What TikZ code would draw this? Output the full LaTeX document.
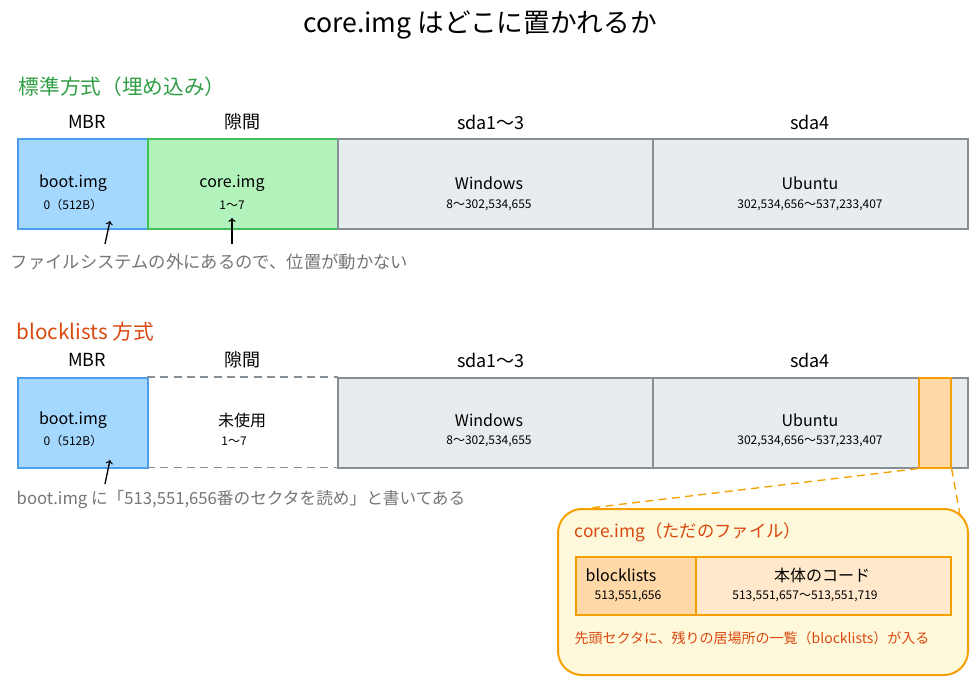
\documentclass[tikz,border=0pt]{standalone}
\usepackage{fontspec}
\setmainfont{Noto Sans CJK JP}
\definecolor{mbrfill}{HTML}{A5D8FF}\definecolor{mbrline}{HTML}{4A9EED}
\definecolor{gapfill}{HTML}{B2F2BB}\definecolor{gapline}{HTML}{40C057}
\definecolor{partfill}{HTML}{E9ECEF}\definecolor{partline}{HTML}{868E96}
\definecolor{corefill}{HTML}{FFD8A8}\definecolor{coreline}{HTML}{F59F00}
\definecolor{filefill}{HTML}{FFF9DB}\definecolor{bodyfill}{HTML}{FFE8CC}
\definecolor{headgreen}{HTML}{2F9E44}\definecolor{headorange}{HTML}{D9480F}
\definecolor{note}{HTML}{757575}
\tikzset{
  seg/.style={draw, line width=1.2pt, inner sep=0pt},
  lbl/.style={font=\fontsize{13.5}{15}\selectfont},
  big/.style={font=\fontsize{12}{14}\selectfont},
  small/.style={font=\fontsize{9}{10}\selectfont},
}
\begin{document}
\begin{tikzpicture}[x=0.75pt,y=-0.75pt]
    \useasboundingbox (0,0) rectangle (977,684);
    \node[font=\fontsize{20}{22}\selectfont] (title) at (480,25) {core.img\ はどこに置かれるか};

    % standard layout
    \node[anchor=west, text=headgreen, font=\fontsize{15.5}{17}\selectfont] (headA) at (14,87) {標準方式（埋め込み）};
    \foreach \x/\t in {87/MBR, 242/隙間, 491/sda1〜3, 810/sda4}
        \node[lbl] at (\x,122) {\t};
    \node[seg, fill=mbrfill, draw=mbrline, minimum width=97.5pt, minimum height=67.5pt, anchor=north west] (mbrA) at (17,138) {};
    \node[seg, fill=gapfill, draw=gapline, minimum width=142.5pt, minimum height=67.5pt, anchor=north west] (gapA) at (147,138) {};
    \node[seg, fill=partfill, draw=partline, minimum width=236.25pt, minimum height=67.5pt, anchor=north west] (winA) at (337,138) {};
    \node[seg, fill=partfill, draw=partline, minimum width=236.25pt, minimum height=67.5pt, anchor=north west] (ubuA) at (652,138) {};
    \node[big] at (73,183) {boot.img};    \node[small] at (73,205) {0（512B）};
    \node[big] at (232,183) {core.img};   \node[small] at (232,205) {1〜7};
    \node[big] at (489,183) {Windows};    \node[small] at (489,205) {8〜302,534,655};
    \node[big] at (810,183) {Ubuntu};     \node[small] at (810,205) {302,534,656〜537,233,407};
    \coordinate (pA) at (105,244);
    \coordinate (pB) at (232,244);
    \draw[->, line width=1pt] (pA) -- (110,221);
    \draw[->, line width=1pt] (pB) -- (232,218);
    \node[anchor=west, text=note, font=\fontsize{13}{15}\selectfont] (noteA) at (6,262) {ファイルシステムの外にあるので、位置が動かない};

    % blocklists layout
    \node[anchor=west, text=headorange, font=\fontsize{15.5}{17}\selectfont] (headB) at (12,332) {blocklists\ 方式};
    \foreach \x/\t in {87/MBR, 242/隙間, 491/sda1〜3, 810/sda4}
        \node[lbl] at (\x,360) {\t};
    \node[seg, fill=mbrfill, draw=mbrline, minimum width=97.5pt, minimum height=67.5pt, anchor=north west] (mbrB) at (17,377) {};
    \node[minimum width=142.5pt, minimum height=67.5pt, anchor=north west, inner sep=0pt] (gapB) at (147,377) {};
    \draw[partline, line width=1.2pt, dash pattern=on 6pt off 4pt] (gapB.north west) -- (gapB.north east) (gapB.south west) -- (gapB.south east);
    \node[seg, fill=partfill, draw=partline, minimum width=236.25pt, minimum height=67.5pt, anchor=north west] (winB) at (337,377) {};
    \node[seg, fill=partfill, draw=partline, minimum width=236.25pt, minimum height=67.5pt, anchor=north west] (ubuB) at (652,377) {};
    \node[seg, fill=corefill, draw=coreline, minimum width=24pt, minimum height=67.5pt, anchor=north west] (coreB) at (918,377) {};
    \node[big] at (73,420) {boot.img};    \node[small] at (73,441) {0（512B）};
    \node[big] at (242,420) {未使用};      \node[small] at (234,441) {1〜7};
    \node[big] at (489,420) {Windows};    \node[small] at (489,441) {8〜302,534,655};
    \node[big] at (810,420) {Ubuntu};     \node[small] at (810,441) {302,534,656〜537,233,407};
    \coordinate (pC) at (105,484);
    \draw[->, line width=1pt] (pC) -- (110,460);
    \node[anchor=west, text=note, font=\fontsize{12.5}{14}\selectfont] (noteB) at (12,500) {boot.img\ に「513,551,656番のセクタを読め」と書いてある};

    % zoomed file
    \node[draw=coreline, fill=filefill, line width=1.5pt, rounded corners=18pt, minimum width=307.5pt, minimum height=124.5pt, anchor=north west] (file) at (557,508) {};
    \draw[coreline, line width=1pt, dash pattern=on 6pt off 4pt] (coreB.south west) -- (590,508) (coreB.south east) -- (960,515);
    \node[anchor=west, text=headorange, font=\fontsize{13}{15}\selectfont] (fileT) at (570,532) {core.img（ただのファイル）};
    \node[seg, fill=corefill, draw=coreline, minimum width=90pt, minimum height=43.5pt, anchor=north west] (blk) at (575,556) {};
    \node[seg, fill=bodyfill, draw=coreline, minimum width=191.25pt, minimum height=43.5pt, anchor=north west] (body) at (695,556) {};
    \node[big] at (621,575) {blocklists};   \node[small] at (628,596) {513,551,656};
    \node[big] at (822,575) {本体のコード};  \node[small] at (805,596) {513,551,657〜513,551,719};
    \node[anchor=west, text=headorange, font=\fontsize{10.5}{12}\selectfont] (fileN) at (570,638) {先頭セクタに、残りの居場所の一覧（blocklists）が入る};
\end{tikzpicture}
\end{document}
